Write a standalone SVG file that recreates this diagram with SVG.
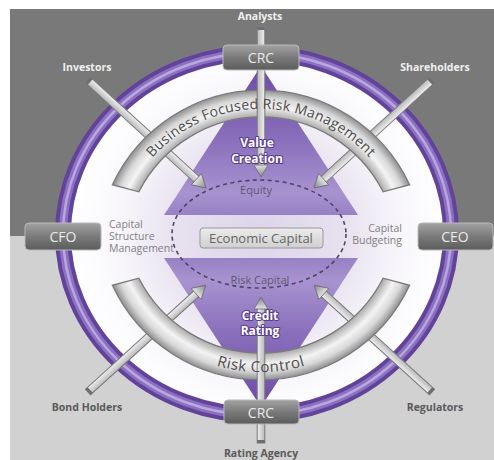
<svg xmlns="http://www.w3.org/2000/svg" width="494" height="460" viewBox="0 0 494 460">
  <style>
    text { font-family: "Open Sans", "Noto Sans", "Liberation Sans", sans-serif; }
    .lbl-top { font-size: 10.5px; font-weight: bold; fill: #f0f0f0; text-anchor: middle; }
    .lbl-bot { font-size: 10.5px; font-weight: bold; fill: #5a5a5a; text-anchor: middle; }
    .box { fill: url(#boxGrad); stroke: #b8b8b8; stroke-width: 1; }
    .box-txt { font-size: 14px; fill: #e9e9e9; text-anchor: middle; }
    .side { font-size: 10.5px; fill: #808080; }
    .inner { font-size: 11px; fill: #5e5672; text-anchor: middle; }
    .hero { font-size: 12px; font-weight: bold; fill: #ffffff; stroke: #5a3e8e; stroke-width: 2.2; paint-order: stroke; stroke-linejoin: round; text-anchor: middle; }
    .band { stroke: #7a7a7a; stroke-width: 1.3; }
    .band-txt { fill: #4d4d4d; }
    .rod { fill: url(#rodGrad); stroke: #7a7a7a; stroke-width: 1; }
    .cap { fill: #6e6e6e; }
    .head { fill: url(#headGrad); stroke: #6a6a6a; stroke-width: 0.8; stroke-linejoin: round; }
  </style>
  <defs>
    <linearGradient id="boxGrad" x1="0" y1="0" x2="0" y2="1">
      <stop offset="0" stop-color="#a3a3a3"/>
      <stop offset="0.5" stop-color="#7a7a7a"/>
      <stop offset="1" stop-color="#5c5c5c"/>
    </linearGradient>
    <radialGradient id="discGrad" cx="260" cy="235" r="190" gradientUnits="userSpaceOnUse">
      <stop offset="0" stop-color="#ddd4ea"/>
      <stop offset="0.45" stop-color="#e7e1ef"/>
      <stop offset="0.72" stop-color="#f7f5fa"/>
      <stop offset="1" stop-color="#ffffff"/>
    </radialGradient>
    <linearGradient id="triTop" x1="0" y1="66" x2="0" y2="215" gradientUnits="userSpaceOnUse">
      <stop offset="0" stop-color="#6c4ca4"/>
      <stop offset="0.5" stop-color="#8a6fbc"/>
      <stop offset="0.85" stop-color="#a893d0"/>
      <stop offset="1" stop-color="#9780c4"/>
    </linearGradient>
    <linearGradient id="triBot" x1="0" y1="258" x2="0" y2="407" gradientUnits="userSpaceOnUse">
      <stop offset="0" stop-color="#9780c4"/>
      <stop offset="0.15" stop-color="#a893d0"/>
      <stop offset="0.5" stop-color="#8a6fbc"/>
      <stop offset="1" stop-color="#6c4ca4"/>
    </linearGradient>
    <radialGradient id="bandTopGrad" cx="261" cy="254" r="164" gradientUnits="userSpaceOnUse">
      <stop offset="0.835" stop-color="#a9a9a9"/>
      <stop offset="0.9" stop-color="#f4f4f4"/>
      <stop offset="0.95" stop-color="#d8d8d8"/>
      <stop offset="1" stop-color="#8e8e8e"/>
    </radialGradient>
    <radialGradient id="bandBotGrad" cx="261" cy="216" r="164" gradientUnits="userSpaceOnUse">
      <stop offset="0.835" stop-color="#a9a9a9"/>
      <stop offset="0.9" stop-color="#f4f4f4"/>
      <stop offset="0.95" stop-color="#d8d8d8"/>
      <stop offset="1" stop-color="#8e8e8e"/>
    </radialGradient>
    <linearGradient id="rodGrad" x1="0" y1="0" x2="0" y2="1">
      <stop offset="0" stop-color="#f0f0f0"/>
      <stop offset="1" stop-color="#b9b9b9"/>
    </linearGradient>
    <linearGradient id="headGrad" x1="0" y1="0" x2="1" y2="0">
      <stop offset="0" stop-color="#e2e2e2"/>
      <stop offset="1" stop-color="#858585"/>
    </linearGradient>
    <linearGradient id="ecoGrad" x1="0" y1="0" x2="0" y2="1">
      <stop offset="0" stop-color="#ececec"/>
      <stop offset="1" stop-color="#cfcfcf"/>
    </linearGradient>
    <path id="arcTop" d="M124.7,204.4 A145,145 0 0 1 397.3,204.4"/>
    <path id="arcBot" d="M114.4,269.4 A156,156 0 0 0 407.6,269.4"/>
  </defs>

  <!-- backdrop -->
  <rect x="0" y="0" width="494" height="460" fill="#ffffff"/>
  <rect x="10" y="9" width="484" height="227" fill="#797979"/>
  <rect x="10" y="236" width="484" height="224" fill="#d1d1d1"/>

  <!-- inner disc -->
  <ellipse cx="257" cy="234" rx="187" ry="174" fill="url(#discGrad)"/>

  <!-- value / credit triangles -->
  <g id="triangles">
    <path d="M261,66 L358,215 L164,215 Z" fill="url(#triTop)"/>
    <path d="M164,258 L358,258 L261,407 Z" fill="url(#triBot)"/>
  </g>

  <!-- economic capital zone -->
  <ellipse cx="259" cy="234" rx="87" ry="54" fill="none" stroke="#4d4466" stroke-width="1.6" stroke-dasharray="4 3.5"/>

  <!-- outer ring -->
  <g id="ring">
    <ellipse cx="257" cy="234" rx="194" ry="181" fill="none" stroke="#62439a" stroke-width="16"/>
    <ellipse cx="257" cy="234" rx="194" ry="181" fill="none" stroke="#8c70c2" stroke-width="8"/>
    <ellipse cx="257" cy="234" rx="194" ry="181" fill="none" stroke="#b9a7de" stroke-width="2.5"/>
  </g>

  <!-- diagonal connectors -->
  <g id="connectors">
    <g transform="translate(88,80) rotate(42.46)">
      <rect class="rod" x="0" y="-3.8" width="149" height="7.6"/>
      <rect class="cap" x="0" y="-3.8" width="3" height="7.6"/>
      <path class="head" d="M147,-7.5 L160,0 L147,7.5 Z"/>
    </g>
    <g transform="translate(432,80) rotate(137.54)">
      <rect class="rod" x="0" y="-3.8" width="149" height="7.6"/>
      <rect class="cap" x="0" y="-3.8" width="3" height="7.6"/>
      <path class="head" d="M147,-7.5 L160,0 L147,7.5 Z"/>
    </g>
    <g transform="translate(88,392) rotate(-42.2)">
      <rect class="rod" x="0" y="-3.8" width="148" height="7.6"/>
      <rect class="cap" x="0" y="-3.8" width="3" height="7.6"/>
      <path class="head" d="M146,-7.5 L159,0 L146,7.5 Z"/>
    </g>
    <g transform="translate(432,392) rotate(-137.8)">
      <rect class="rod" x="0" y="-3.8" width="148" height="7.6"/>
      <rect class="cap" x="0" y="-3.8" width="3" height="7.6"/>
      <path class="head" d="M146,-7.5 L159,0 L146,7.5 Z"/>
    </g>
  </g>

  <!-- business focused risk management band -->
  <g id="band-top">
    <path class="band" fill="url(#bandTopGrad)" d="M112.4,184.7 A164,164 0 0 1 409.6,184.7 L383.1,191.8 A137,137 0 0 0 138.9,191.8 Z"/>
  </g>

  <!-- risk control band -->
  <g id="band-bottom">
    <path class="band" fill="url(#bandBotGrad)" d="M112.4,285.3 A164,164 0 0 0 409.6,285.3 L383.1,278.2 A137,137 0 0 1 138.9,278.2 Z"/>
  </g>

  <!-- vertical connectors -->
  <g id="connectors-vertical">
    <g transform="translate(261,27) rotate(90)">
      <rect class="rod" x="0" y="-3.8" width="139" height="7.6"/>
      <rect class="cap" x="0" y="-3.8" width="3" height="7.6"/>
      <path class="head" d="M138,-7 L150,0 L138,7 Z"/>
    </g>
    <g transform="translate(261,443) rotate(-90)">
      <rect class="rod" x="0" y="-3.8" width="135" height="7.6"/>
      <rect class="cap" x="0" y="-3.8" width="3" height="7.6"/>
      <path class="head" d="M134,-7 L146,0 L134,7 Z"/>
    </g>
  </g>

  <text class="band-txt" font-size="14" letter-spacing="0.3"><textPath href="#arcTop" startOffset="50%" text-anchor="middle">Business Focused Risk Management</textPath></text>
  <text class="band-txt" font-size="15" letter-spacing="0.5"><textPath href="#arcBot" startOffset="50%" text-anchor="middle">Risk Control</textPath></text>

  <!-- role boxes -->
  <g id="crc-top">
    <rect class="box" x="223" y="45" width="76" height="25" rx="4"/>
    <text class="box-txt" x="261" y="63">CRC</text>
  </g>
  <g id="crc-bottom">
    <rect class="box" x="224" y="400" width="75" height="24" rx="4"/>
    <text class="box-txt" x="261" y="418">CRC</text>
  </g>
  <g id="cfo">
    <rect class="box" x="25" y="223" width="76" height="27" rx="4"/>
    <text class="box-txt" x="63" y="242">CFO</text>
  </g>
  <g id="ceo">
    <rect class="box" x="418" y="223" width="75" height="27" rx="4"/>
    <text class="box-txt" x="455" y="242">CEO</text>
  </g>

  <!-- economic capital -->
  <g id="economic-capital">
    <rect x="200" y="228" width="123" height="20" rx="3" fill="url(#ecoGrad)" stroke="#999999" stroke-width="1"/>
    <text x="261" y="242.5" font-size="13" fill="#666666" text-anchor="middle">Economic Capital</text>
  </g>

  <!-- inner labels -->
  <g id="value-creation">
    <text class="hero" x="257" y="147">Value</text>
    <text class="hero" x="257" y="163">Creation</text>
  </g>
  <g id="credit-rating">
    <text class="hero" x="260" y="320">Credit</text>
    <text class="hero" x="260" y="335">Rating</text>
  </g>
  <text class="inner" x="256" y="194">Equity</text>
  <text class="inner" x="260" y="284" font-size="12">Risk Capital</text>

  <g id="capital-structure">
    <text class="side" x="109" y="228">Capital</text>
    <text class="side" x="109" y="240">Structure</text>
    <text class="side" x="109" y="252">Management</text>
  </g>
  <g id="capital-budgeting">
    <text class="side" x="402" y="232" text-anchor="end">Capital</text>
    <text class="side" x="402" y="244" text-anchor="end">Budgeting</text>
  </g>

  <!-- stakeholder labels -->
  <text class="lbl-top" x="260" y="20">Analysts</text>
  <text class="lbl-top" x="87" y="71">Investors</text>
  <text class="lbl-top" x="435" y="71">Shareholders</text>
  <text class="lbl-bot" x="87" y="411">Bond Holders</text>
  <text class="lbl-bot" x="435" y="411">Regulators</text>
  <text class="lbl-bot" x="261" y="457">Rating Agency</text>
</svg>
